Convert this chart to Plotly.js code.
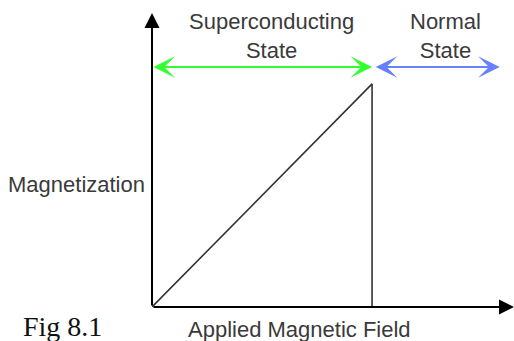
<!DOCTYPE html>
<html>
<head>
<meta charset="utf-8">
<script src="https://cdn.plot.ly/plotly-3.0.1.min.js"></script>
<style>html,body{margin:0;padding:0;background:#fff;}#chart{width:514px;height:341px;}</style>
</head>
<body>
<div id="chart"></div>
<script>
// Applied field (normalised to critical field Hc) and magnetisation (normalised to Mc)
const appliedField = [0, 1, 1];
const magnetization = [0, 1, 0];
// State regions along the field axis
const stateLabels = ['Superconducting<br>State', 'Normal<br>State'];
const stateStart = [0, 1.01];
const stateEnd = [1, 1.58];
const stateColors = ['#33ff33', '#6680ff'];
// Axis extents
const xMax = 1.645;
const yMax = 1.318;
const stateRowY = 1.076;

const sansFont = {family: 'Liberation Sans, Arial, sans-serif', size: 22, color: '#3a3a3a'};

const annotations = [];
// axes with arrowheads
annotations.push({x: xMax, y: 0, ax: 0, ay: 0, xref: 'x', yref: 'y', axref: 'x', ayref: 'y',
  text: '', showarrow: true, arrowhead: 2, arrowsize: 1.5, arrowwidth: 2, arrowcolor: '#000'});
annotations.push({x: 0, y: yMax, ax: 0, ay: 0, xref: 'x', yref: 'y', axref: 'x', ayref: 'y',
  text: '', showarrow: true, arrowhead: 2, arrowsize: 1.5, arrowwidth: 2, arrowcolor: '#000'});
// state range arrows and labels
stateLabels.forEach((lab, i) => {
  annotations.push({x: stateEnd[i], y: stateRowY, ax: stateStart[i], ay: stateRowY,
    xref: 'x', yref: 'y', axref: 'x', ayref: 'y', text: '', showarrow: true,
    arrowhead: 3, startarrowhead: 3, arrowside: 'end+start', arrowsize: 1.8, startarrowsize: 1.8,
    arrowwidth: 2, arrowcolor: stateColors[i]});
  annotations.push({x: (stateStart[i] + stateEnd[i]) / 2, y: stateRowY, xref: 'x', yref: 'y',
    text: lab, showarrow: false, xanchor: 'center', yanchor: 'bottom', xshift: 9, yshift: 2,
    font: sansFont});
});
// axis titles
annotations.push({x: 0, y: 0.55, xref: 'x', yref: 'y', text: 'Magnetization', showarrow: false,
  xanchor: 'right', yanchor: 'middle', xshift: -5, font: sansFont});
annotations.push({x: 0.67, y: 0, xref: 'x', yref: 'y', text: 'Applied Magnetic Field', showarrow: false,
  xanchor: 'center', yanchor: 'top', yshift: -8, font: sansFont});
annotations.push({x: 0, y: 0, xref: 'x', yref: 'y', text: 'Fig 8.1', showarrow: false,
  xanchor: 'left', yanchor: 'top', xshift: -131, yshift: -2,
  font: {family: 'Liberation Serif, Times New Roman, serif', size: 28, color: '#111'}});

const trace = {x: appliedField, y: magnetization, mode: 'lines', type: 'scatter',
  line: {color: '#333', width: 1.6}, hoverinfo: 'skip', showlegend: false, cliponaxis: false};

const layout = {
  width: 514, height: 341,
  margin: {l: 152, r: 0, t: 13, b: 34, pad: 0},
  paper_bgcolor: '#fff', plot_bgcolor: '#fff',
  xaxis: {range: [0, xMax], visible: false, fixedrange: true},
  yaxis: {range: [0, yMax], visible: false, fixedrange: true},
  annotations: annotations,
  showlegend: false
};
Plotly.newPlot('chart', [trace], layout, {staticPlot: true, displayModeBar: false});
</script>
</body>
</html>
